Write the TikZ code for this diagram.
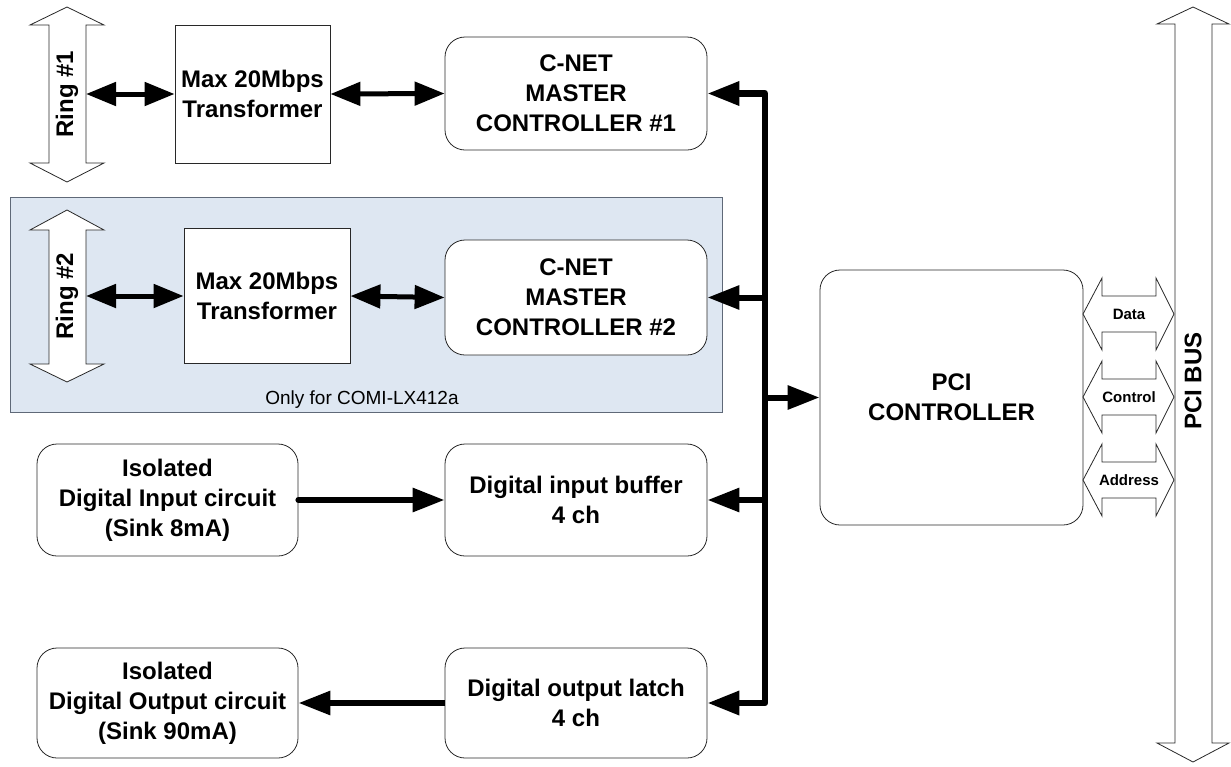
\documentclass[tikz,border=0pt]{standalone}
\usepackage{fontspec}
\setmainfont{Liberation Sans}
\usetikzlibrary{arrows.meta}
\definecolor{shadefill}{RGB}{222,231,242}
\definecolor{shadeline}{RGB}{95,105,120}
\definecolor{edgecol}{RGB}{40,40,40}
\begin{document}
\begin{tikzpicture}[x=1pt,y=-1pt,
  lbl/.style={font=\fontsize{24}{30}\selectfont\bfseries, align=center},
  boxsq/.style={draw=edgecol, line width=0.8pt, fill=white, inner sep=0pt, lbl},
  boxrd/.style={boxsq, rounded corners=20pt},
  hollow/.style={draw=edgecol, line width=0.8pt, fill=white, line join=miter},
  conn/.style={line width=6pt, -{Triangle[length=32pt,width=23pt]}},
  dconn/.style={line width=5pt, {Triangle[length=30pt,width=23pt]}-{Triangle[length=30pt,width=23pt]}},
  buslbl/.style={font=\fontsize{15}{18}\selectfont\bfseries},
]
\useasboundingbox (0,0) rectangle (1231,766);

% optional area
\node[draw=shadeline, fill=shadefill, line width=0.8pt, minimum width=712pt, minimum height=215pt, inner sep=0pt] (opt) at (366,304.5) {};
\node[font=\fontsize{19}{22}\selectfont] (note) at (362,400) {Only for COMI-LX412a};

% ring arrows
\draw[hollow] (67,7) -- (104,25) -- (86,25) -- (86,163) -- (104,163) -- (67,182) -- (30,163) -- (49,163) -- (49,25) -- (30,25) -- cycle;
\node[lbl, rotate=90] (ring1) at (67,94) {Ring \#1};
\draw[hollow] (67,210) -- (104,230) -- (86,230) -- (86,364) -- (104,364) -- (67,382) -- (30,364) -- (49,364) -- (49,230) -- (30,230) -- cycle;
\node[lbl, rotate=90] (ring2) at (67,296) {Ring \#2};
\coordinate (r1) at (86,94);
\coordinate (r2) at (86,296);

% boxes
\node[boxsq, minimum width=155pt, minimum height=138pt] (T1) at (252.5,94) {Max 20Mbps\\Transformer};
\node[boxrd, minimum width=262pt, minimum height=113pt] (C1) at (576,93.5) {C-NET\\MASTER\\CONTROLLER \#1};
\node[boxsq, minimum width=166pt, minimum height=135pt] (T2) at (267,296) {Max 20Mbps\\Transformer};
\node[boxrd, minimum width=262pt, minimum height=115pt] (C2) at (576,297.5) {C-NET\\MASTER\\CONTROLLER \#2};
\node[boxrd, minimum width=261pt, minimum height=112pt] (IsoIn) at (167.5,500) {Isolated\\Digital Input circuit\\(Sink 8mA)};
\node[boxrd, minimum width=262pt, minimum height=112pt] (DIB) at (576,500) {Digital input buffer\\4 ch};
\node[boxrd, minimum width=261pt, minimum height=110pt] (IsoOut) at (167.5,703) {Isolated\\Digital Output circuit\\(Sink 90mA)};
\node[boxrd, minimum width=262pt, minimum height=110pt] (DOL) at (576,703) {Digital output latch\\4 ch};
\node[boxrd, minimum width=263pt, minimum height=255pt] (PCI) at (951.5,397.5) {PCI\\CONTROLLER};

% PCI bus
\draw[hollow] (1193,7) -- (1229,24) -- (1212,24) -- (1212,743) -- (1229,743) -- (1193,762) -- (1157,743) -- (1175,743) -- (1175,24) -- (1157,24) -- cycle;
\node[lbl, rotate=90] (pcibus) at (1193,381) {PCI BUS};

% small bus arrows
\foreach \c/\t/\n in {314/Data/data, 397/Control/ctrl, 480/Address/addr}{
  \draw[hollow] (1083,\c) -- (1102,\c-36) -- (1102,\c-18) -- (1156,\c-18) -- (1156,\c-36) -- (1174,\c) -- (1156,\c+36) -- (1156,\c+18) -- (1102,\c+18) -- (1102,\c+36) -- cycle;
  \node[buslbl] (\n) at (1129,\c) {\t};
}

% connectors
\draw[dconn] (r1) -- (T1.west);
\draw[dconn] (T1.east) -- (C1.west);
\draw[dconn] (r2) -- (T2.west);
\draw[dconn] (T2.east) -- (C2.west);

\coordinate (bt) at (765,93.5);
\coordinate (bb) at (765,703);
\coordinate (b2) at (765,297.5);
\coordinate (bp) at (765,397.5);
\coordinate (bi) at (765,500);
\draw[line width=6.5pt, line join=round, {Triangle[length=32pt,width=23pt]}-{Triangle[length=32pt,width=23pt]}] (C1.east) -- (bt) -- (bb) -- (DOL.east);
\draw[conn] (b2) -- (C2.east);
\draw[conn] (bp) -- (PCI.west);
\draw[conn] (bi) -- (DIB.east);

\draw[conn, line cap=round] (IsoIn.east) -- (DIB.west);
\draw[conn] (DOL.west) -- (IsoOut.east);
\end{tikzpicture}
\end{document}
